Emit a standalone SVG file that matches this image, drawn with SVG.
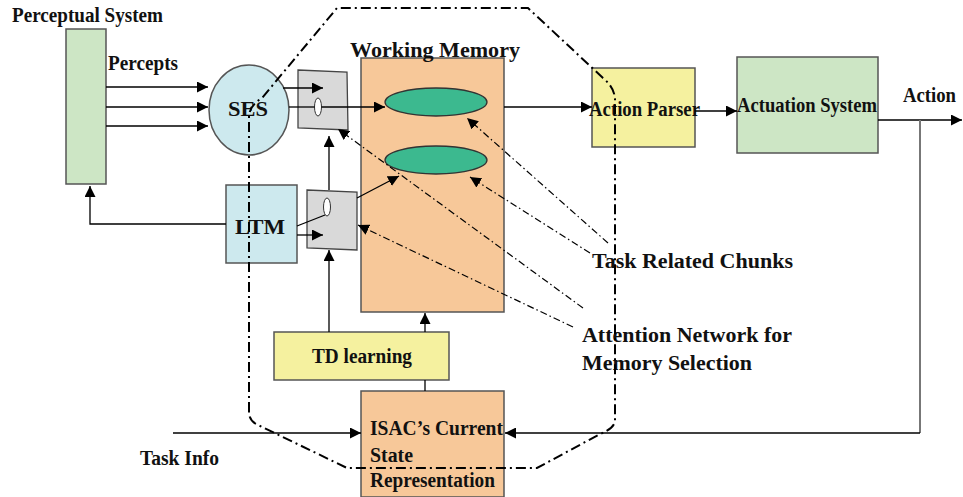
<svg xmlns="http://www.w3.org/2000/svg" width="963" height="497" viewBox="0 0 963 497">
<defs>
<marker id="arr" markerUnits="userSpaceOnUse" markerWidth="12" markerHeight="11" refX="11" refY="5.5" orient="auto">
<path d="M0,0 L11,5.5 L0,11 z" fill="#000"/>
</marker>
<style>
.t{font-family:"Liberation Serif","Times New Roman",serif;font-weight:bold;fill:#111;font-size:20px}
.box{stroke:#555;stroke-width:1.5}
.green{fill:#cde6c5}
.cyan{fill:#cde9ee}
.peach{fill:#f7c899}
.yellow{fill:#f5f19f}
.mux{fill:#d9d9d9;stroke:#444;stroke-width:1.3}
.chunk{fill:#3cb98f;stroke:#333;stroke-width:1.3}
.ln{stroke:#000;stroke-width:1.3;fill:none}
.ar{stroke:#000;stroke-width:1.3;fill:none;marker-end:url(#arr)}
.ptr{stroke:#000;stroke-width:1.2;fill:none;stroke-dasharray:7 3 1.5 3;marker-end:url(#arr)}
.bound{stroke:#000;stroke-width:2;fill:none;stroke-dasharray:10 4 2 4}
</style>
</defs>
<rect width="963" height="497" fill="#fff"/>

<g id="perceptual-system">
<rect class="box green" x="66" y="29" width="40" height="155"/>
<text class="t" x="12" y="22" font-size="21" textLength="151" lengthAdjust="spacingAndGlyphs">Perceptual System</text>
</g>
<text class="t" x="108" y="70" font-size="19" textLength="70" lengthAdjust="spacingAndGlyphs">Percepts</text>

<g id="ses">
<ellipse class="box cyan" cx="249" cy="110" rx="40" ry="45"/>
<text class="t" x="248" y="116" font-size="25" text-anchor="middle" textLength="40" lengthAdjust="spacingAndGlyphs">SES</text>
</g>

<g id="ltm">
<rect class="box cyan" x="226" y="185" width="71" height="78"/>
<text class="t" x="260" y="234" font-size="25" text-anchor="middle" textLength="50" lengthAdjust="spacingAndGlyphs">LTM</text>
</g>

<g id="mux-upper">
<polygon class="mux" points="298,70 347,72 348,130 298,128"/>
<ellipse cx="318" cy="107" rx="3.5" ry="9" fill="#fff" stroke="#333" stroke-width="1"/>
</g>

<g id="mux-lower">
<polygon class="mux" points="307,190 357,192 357,250 307,248"/>
<ellipse cx="327" cy="207" rx="3.5" ry="9" fill="#fff" stroke="#333" stroke-width="1"/>
</g>

<g id="working-memory">
<rect class="box peach" x="361" y="58" width="143" height="254"/>
<text class="t" x="350" y="57" font-size="25" textLength="170" lengthAdjust="spacingAndGlyphs">Working Memory</text>
<ellipse id="chunk-1" class="chunk" cx="436" cy="102" rx="51" ry="14"/>
<ellipse id="chunk-2" class="chunk" cx="436" cy="160" rx="51" ry="14"/>
</g>

<g id="action-parser">
<rect class="box yellow" x="592" y="68" width="103" height="79"/>
<text class="t" x="589" y="116" font-size="21" textLength="111" lengthAdjust="spacingAndGlyphs">Action Parser</text>
</g>

<g id="actuation-system">
<rect class="box green" x="737" y="57" width="141" height="96"/>
<text class="t" x="737" y="112" font-size="21" textLength="140" lengthAdjust="spacingAndGlyphs">Actuation System</text>
</g>
<text class="t" x="903" y="102" font-size="20" textLength="53" lengthAdjust="spacingAndGlyphs">Action</text>

<g id="td-learning">
<rect class="box yellow" x="274" y="332" width="175" height="48"/>
<text class="t" x="362" y="363" font-size="20" text-anchor="middle" textLength="100" lengthAdjust="spacingAndGlyphs">TD learning</text>
</g>

<g id="isac-state">
<rect class="box peach" x="361" y="391" width="143" height="106"/>
<text class="t" x="370" y="435" textLength="133" lengthAdjust="spacingAndGlyphs">ISAC’s Current</text>
<text class="t" x="370" y="462" textLength="43" lengthAdjust="spacingAndGlyphs">State</text>
<text class="t" x="370" y="487" textLength="125" lengthAdjust="spacingAndGlyphs">Representation</text>
</g>

<text class="t" x="140" y="465" textLength="79" lengthAdjust="spacingAndGlyphs">Task Info</text>
<text class="t" x="592" y="268" font-size="25" textLength="201" lengthAdjust="spacingAndGlyphs">Task Related Chunks</text>
<text class="t" x="582" y="342" font-size="23" textLength="210" lengthAdjust="spacingAndGlyphs">Attention Network for</text>
<text class="t" x="582" y="370" font-size="23" textLength="170" lengthAdjust="spacingAndGlyphs">Memory Selection</text>

<g id="connectors">
<line class="ar" x1="106" y1="87" x2="208" y2="87"/>
<line class="ar" x1="106" y1="107" x2="208" y2="107"/>
<line class="ar" x1="106" y1="126" x2="208" y2="126"/>
<line class="ar" x1="283" y1="88" x2="323" y2="88"/>
<line class="ln" x1="289" y1="107" x2="314.5" y2="107"/>
<line class="ar" x1="321.5" y1="107" x2="385" y2="107"/>
<polyline class="ar" points="226,224 90,224 90,186"/>
<line class="ln" x1="297" y1="226" x2="325" y2="215"/>
<line class="ar" x1="297" y1="235" x2="323" y2="235"/>
<line class="ar" x1="357" y1="198" x2="399" y2="176"/>
<line class="ar" x1="329" y1="190" x2="329" y2="136"/>
<line class="ar" x1="329" y1="332" x2="329" y2="250"/>
<line class="ar" x1="425" y1="332" x2="425" y2="313"/>
<line class="ln" x1="425" y1="391" x2="425" y2="380"/>
<line class="ar" x1="504" y1="107" x2="592" y2="107"/>
<line class="ar" x1="695" y1="111" x2="737" y2="111"/>
<line class="ar" x1="878" y1="120" x2="962" y2="120"/>
<line x1="920" y1="120" x2="920" y2="433" stroke="#777" stroke-width="2"/>
<line class="ar" x1="920" y1="433" x2="505" y2="433"/>
<line class="ar" x1="173" y1="433" x2="361" y2="433"/>
<line class="ptr" x1="608" y1="243" x2="467" y2="118"/>
<line class="ptr" x1="590" y1="253" x2="470" y2="177"/>
<line class="ptr" x1="583" y1="308" x2="338" y2="129"/>
<line class="ptr" x1="573" y1="327" x2="358" y2="225"/>
</g>

<g id="attention-boundary">
<path class="bound" d="M249,412 L249,117 Q249,106 262,98 L337,8 L528,8 L603,78 Q615,88 615,100 L615,420 Q615,428 600,434 L537,468 L347,468 L258,425 Q249,421 249,412 Z"/>
</g>
</svg>
